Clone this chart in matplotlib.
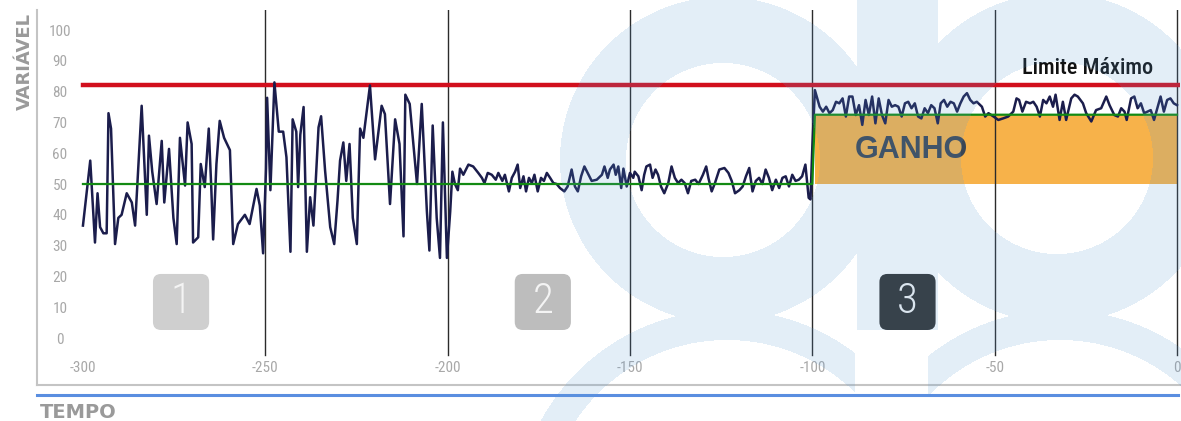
import numpy as np
import matplotlib
matplotlib.use('Agg')
import matplotlib.pyplot as plt
from matplotlib.patches import FancyBboxPatch, Rectangle
from matplotlib.lines import Line2D

# ---- data ----
# 1: uncontrolled process
tempo_1 = [-300, -298, -296.7, -296, -295.3, -294.4, -293.5, -293, -292.3, -291.2,
           -290.3, -289.4, -288, -286.6, -285.7, -283.9, -282.5, -281.9, -281, -279.8,
           -278.4, -277.7, -276.4, -275.2, -274.3, -273.4, -272, -271.3, -270.2, -269.8,
           -268.4, -267.7, -266.6, -265.5, -264.8, -264.3, -263.4, -262.5, -261.3, -259.7,
           -258.8, -257.5, -255.6, -254.3, -252.4, -251.5, -250.6, -249.8, -249.5, -248.6,
           -247.5, -246.3, -245.1, -244.2, -243.1, -242.5, -241.5, -241, -240.4, -239.5,
           -238.6, -237.7, -236.8, -235.4, -234.7, -233.6, -232.2, -231.1, -230.2, -229.5,
           -228.6, -227.8, -226.9, -226, -224.9, -224, -223.1, -221.3, -219.9, -218.1,
           -217.2, -215.8, -214.4, -213.2, -212.1, -211.6, -210.4, -208.4, -207.1, -205.7,
           -205, -204.1, -203, -202.1, -201.3, -200.2, -199.3]
var_1 = [36.5, 57.6, 31, 47, 36, 34, 34, 73, 68, 30.5,
         39, 40, 47, 44, 36.5, 75.4, 40, 65.7, 54, 43.5,
         64, 44, 61.4, 39, 30.5, 65, 49.5, 70, 63, 31,
         32.7, 56.5, 49, 68, 48.4, 32, 56.5, 70.5, 65, 61,
         30.5, 37, 40, 37, 48.4, 43, 27.5, 55, 78, 48,
         83, 67, 67, 58.7, 28, 71, 67, 49, 66, 75,
         28, 45.7, 36.5, 68.4, 72, 54.3, 36, 30.5, 44.6, 57.6,
         63.5, 51, 63, 39, 30.5, 68, 65, 82, 58, 75.4,
         72.7, 43.5, 71, 63, 33, 79, 76, 50, 76, 41.3,
         28.4, 69, 39, 26, 70, 26, 41]

# 2: stabilised process
tempo_2 = [-198.7, -198, -197.2, -196.6, -195.7, -194.3, -193, -191.6, -190.6, -189.9,
           -189, -187.9, -186.8, -186.1, -185, -184.3, -183.2, -182.4, -181.5, -180.8,
           -180.1, -179.2, -178.5, -177.7, -176.9, -176.2, -175.3, -174.4, -173.6, -172.8,
           -171.9, -171, -170.1, -169.2, -168, -167.1, -166, -165.1, -164.3, -163.4,
           -162.5, -161.6, -160.5, -159.1, -157.7, -157, -156.1, -155.5, -154.5, -153.9,
           -153.2, -152.4, -151.8, -150.9, -150, -149.1, -148.7, -147.7, -146.8, -146.1,
           -145.5, -144.5, -143.8, -143, -142.3, -141.5, -140.6, -139.5, -138.6, -137.7,
           -136.8, -135.9, -135, -134.1, -133.2, -132.1, -131.2, -130, -129.1, -128.5,
           -127.6, -126.7, -125.5, -124.1, -123, -122.1, -121.2, -120, -119.1, -118.2,
           -117.3, -116.4, -115.5, -114.6, -113.7, -112.8, -111.9, -111, -110, -109.1,
           -108.2, -107.3, -106.4, -105.5, -104.6, -103.7, -102.8, -101.9, -101, -100.5,
           -100]
var_2 = [54, 50, 48, 55, 53, 56.3, 55.7, 53.6, 52, 50.3,
         53.6, 53, 51.4, 53.6, 51, 53, 47.6, 52, 54, 56.3,
         48.7, 52.5, 47.6, 52, 50.3, 53, 47.6, 52, 51, 53.6,
         52, 50.3, 50, 48.7, 47.6, 49.2, 54.7, 49.2, 47.6, 52.5,
         55.7, 53.6, 51, 51.4, 53, 55.7, 52, 54.7, 56.3, 53,
         55.7, 48.7, 55, 49.2, 53.6, 52, 54, 52.5, 48, 53,
         55.7, 56.3, 52, 54.7, 53, 49.2, 47, 50.3, 55.7, 52,
         50.3, 51.4, 50.3, 47, 51, 51.4, 50, 53, 55.7, 52,
         47.6, 50.3, 54.7, 55.2, 53.6, 51, 47, 48, 49.2, 52.5,
         55.2, 47.6, 51, 52, 50, 54.7, 52, 48, 51.4, 48.7,
         52, 52.5, 49.2, 53, 51, 51.4, 52.5, 56.3, 45.5, 45,
         62]

# 3: optimised process
tempo_3 = [-99.3, -98, -97.1, -96.2, -95.3, -94.4, -93.5, -92.6, -91.7, -90.8,
           -89.9, -89, -88.1, -87.2, -86.3, -85.4, -84.5, -83.6, -82.7, -81.8,
           -80.9, -80, -79.1, -78.2, -77.3, -76.4, -75.5, -74.6, -73.7, -72.8,
           -71.9, -71, -70.1, -69.2, -68.3, -67.4, -66.5, -65.6, -64.8, -63.9,
           -63, -62.1, -61.2, -60.3, -59.4, -58.5, -57.6, -56.7, -55.8, -54.9,
           -53.5, -52.6, -51.7, -50.3, -49, -47.7, -46.3, -44.9, -44, -43.3,
           -42.4, -41.4, -40.3, -39.4, -38.5, -37.6, -36.7, -35.8, -34.9, -34,
           -33.3, -32.2, -31.3, -30.4, -29, -28.1, -27.2, -25.8, -24.9, -23.5,
           -22.2, -20.8, -19.4, -18.5, -17.2, -16.2, -15.3, -14.4, -13.8, -12.6,
           -11.7, -10.8, -9.9, -9, -8.1, -7.2, -6.3, -5.4, -4.5, -3.6,
           -2.7, -1.8, -0.9, 0]
var_3 = [80.5, 75.1, 73.5, 75.1, 73, 74, 76.7, 76.2, 77.8, 71.9,
         78.4, 78.4, 72.4, 75.6, 69.2, 77.3, 72.4, 78.4, 69.7, 77.8,
         72.4, 69.7, 77.3, 75.1, 75.6, 75.1, 71.9, 76.2, 76.7, 74.6,
         76.2, 71.9, 71.3, 74.6, 73, 75.6, 74.6, 69.7, 76.2, 77.3,
         75.1, 76.7, 76.2, 73.5, 76.2, 78.4, 79.5, 77.3, 76.2, 76.7,
         75.1, 71.9, 73, 71.9, 70.8, 71.3, 71.9, 73.5, 77.8, 77.3,
         73.5, 76.7, 76.2, 76.7, 75.1, 71.9, 77.3, 76.2, 78.4, 75.1,
         79, 70.8, 76.7, 70.8, 77.8, 79, 78.4, 76.2, 73, 70.3,
         74, 74.6, 78.4, 75.6, 72.4, 71.9, 74.6, 73.5, 70.8, 77.8,
         78.4, 74.6, 76.2, 73, 73.5, 74, 70.8, 74.6, 78.4, 73.5,
         77.3, 77.8, 76.2, 75.6]

limite_max = 82
media_antes = 50
media_depois = 72.5
inicio_ganho = -100
xticks = [-300, -250, -200, -150, -100, -50, 0]
yticks = [0, 10, 20, 30, 40, 50, 60, 70, 80, 90, 100]
etapas = ['1', '2', '3']
etapa_x = [-273.1, -173.9, -73.9]
etapa_cor = ['#cfcfcf', '#bdbdbd', '#303030']

tempo = tempo_1 + tempo_2 + tempo_3
variavel = var_1 + var_2 + var_3

narrow = ['Liberation Sans Narrow', 'Roboto Condensed', 'DejaVu Sans']
W, H = 1181, 421

fig = plt.figure(figsize=(W / 100, H / 100), dpi=100)
ax = fig.add_axes([37 / W, 1 - 385 / H, 1143 / W, 375 / H])
xlim = (-312.6, 0.82)
ylim = (-15.26, 106.5)
ax.set_xlim(*xlim)
ax.set_ylim(*ylim)

# gain area
ax.add_patch(Rectangle((inicio_ganho + 0.7, media_antes), -inicio_ganho - 0.4,
                       media_depois - media_antes, color='#f7b24a', lw=0, zorder=1))

# vertical time lines, reaching a little below zero
frac = (-5.5 - ylim[0]) / (ylim[1] - ylim[0])
for x in xticks[1:]:
    ax.axvline(x, ymin=frac, ymax=1, color='#2b2b2b', lw=1, zorder=2)

# maximum limit
x0 = (tempo[0] - xlim[0]) / (xlim[1] - xlim[0])
ax.axhline(limite_max, xmin=x0, xmax=1, color='#d20f1d', lw=3.2, zorder=3)

# process line
ax.plot(tempo, variavel, color='#1b1d4c', lw=1.8, zorder=4)

# averages
ax.plot([tempo[0], inicio_ganho, inicio_ganho + 0.7, 0],
        [media_antes, media_antes, media_depois, media_depois],
        color='#138a13', lw=1.6, zorder=5)

ax.text(-6.5, 85.6, 'Limite Máximo', ha='right', va='baseline',
        fontsize=16, color='#111111', family=narrow, fontstretch='condensed',
        fontweight='medium', zorder=6)
ax.text(-72.9, 61, 'GANHO', ha='center', va='center', fontsize=22,
        fontweight='bold', color='#3b4654', family='Liberation Sans', zorder=6)

# step boxes
ma = 3.6467 / 3.08
for lab, cx, col in zip(etapas, etapa_x, etapa_cor):
    ax.add_patch(FancyBboxPatch((cx - 7.7, 2.6), 15.4, 18.2,
                                boxstyle='round,pad=0,rounding_size=2.2',
                                mutation_aspect=ma, fc=col, ec='none', zorder=6))
    ax.text(cx, 11.7, lab, ha='center', va='center', fontsize=31,
            color='#f4f4f4', family=narrow, fontstretch='condensed',
            fontweight='light', zorder=7)

# ticks inside the frame
ax.set_xticks(xticks)
ax.set_xticklabels([str(v) for v in xticks], family=narrow, fontsize=11,
                   fontstretch='condensed', color='#a8a8a8', va='center')
ax.set_yticks(yticks)
ax.set_yticklabels([str(v) for v in yticks], family=narrow, fontsize=11,
                   fontstretch='condensed', color='#a8a8a8', ha='center')
ax.tick_params(axis='x', length=0, pad=-12.2)
ax.tick_params(axis='y', length=0, pad=-16.6)

for s in ['top', 'right']:
    ax.spines[s].set_visible(False)
for s in ['left', 'bottom']:
    ax.spines[s].set_color('#c4c4c4')
    ax.spines[s].set_linewidth(1.5)

fig.add_artist(Line2D([37 / W, 1178 / W], [1 - 395 / H, 1 - 395 / H],
                      color='#5a8ee0', lw=2.2))
fig.text(25 / W, 1 - 62 / H, 'VARIÁVEL', rotation=90, ha='center', va='center',
         fontsize=13, fontweight='bold', color='#9a9a9a')
fig.text(40 / W, 1 - 412 / H, 'TEMPO', ha='left', va='center',
         fontsize=14, fontweight='bold', color='#9a9a9a')

# light watermark over the whole picture
ov = fig.add_axes([0, 0, 1, 1], zorder=10)
yy, xx = np.mgrid[0:H, 0:W] + 0.5


def ring(cx, cy, ro, ri):
    d = np.hypot(xx - cx, yy - cy)
    return (d <= ro) & (d >= ri)


top = yy < 330
mask = ((ring(723, 160, 163, 97) | ring(1057, 158, 165, 96)
         | ((xx > 857) & (xx < 938))) & top)
mask |= (ring(727, 522, 212, 182) & (xx < 855)) | (ring(1060, 522, 212, 182) & (xx > 928))
rgba = np.zeros((H, W, 4))
rgba[..., 0] = 91 / 255
rgba[..., 1] = 155 / 255
rgba[..., 2] = 213 / 255
rgba[..., 3] = mask * 0.17
ov.imshow(rgba, extent=(0, W, H, 0), interpolation='bilinear')
ov.set_xlim(0, W)
ov.set_ylim(H, 0)
ov.axis('off')

plt.savefig('out.png', dpi=100)
